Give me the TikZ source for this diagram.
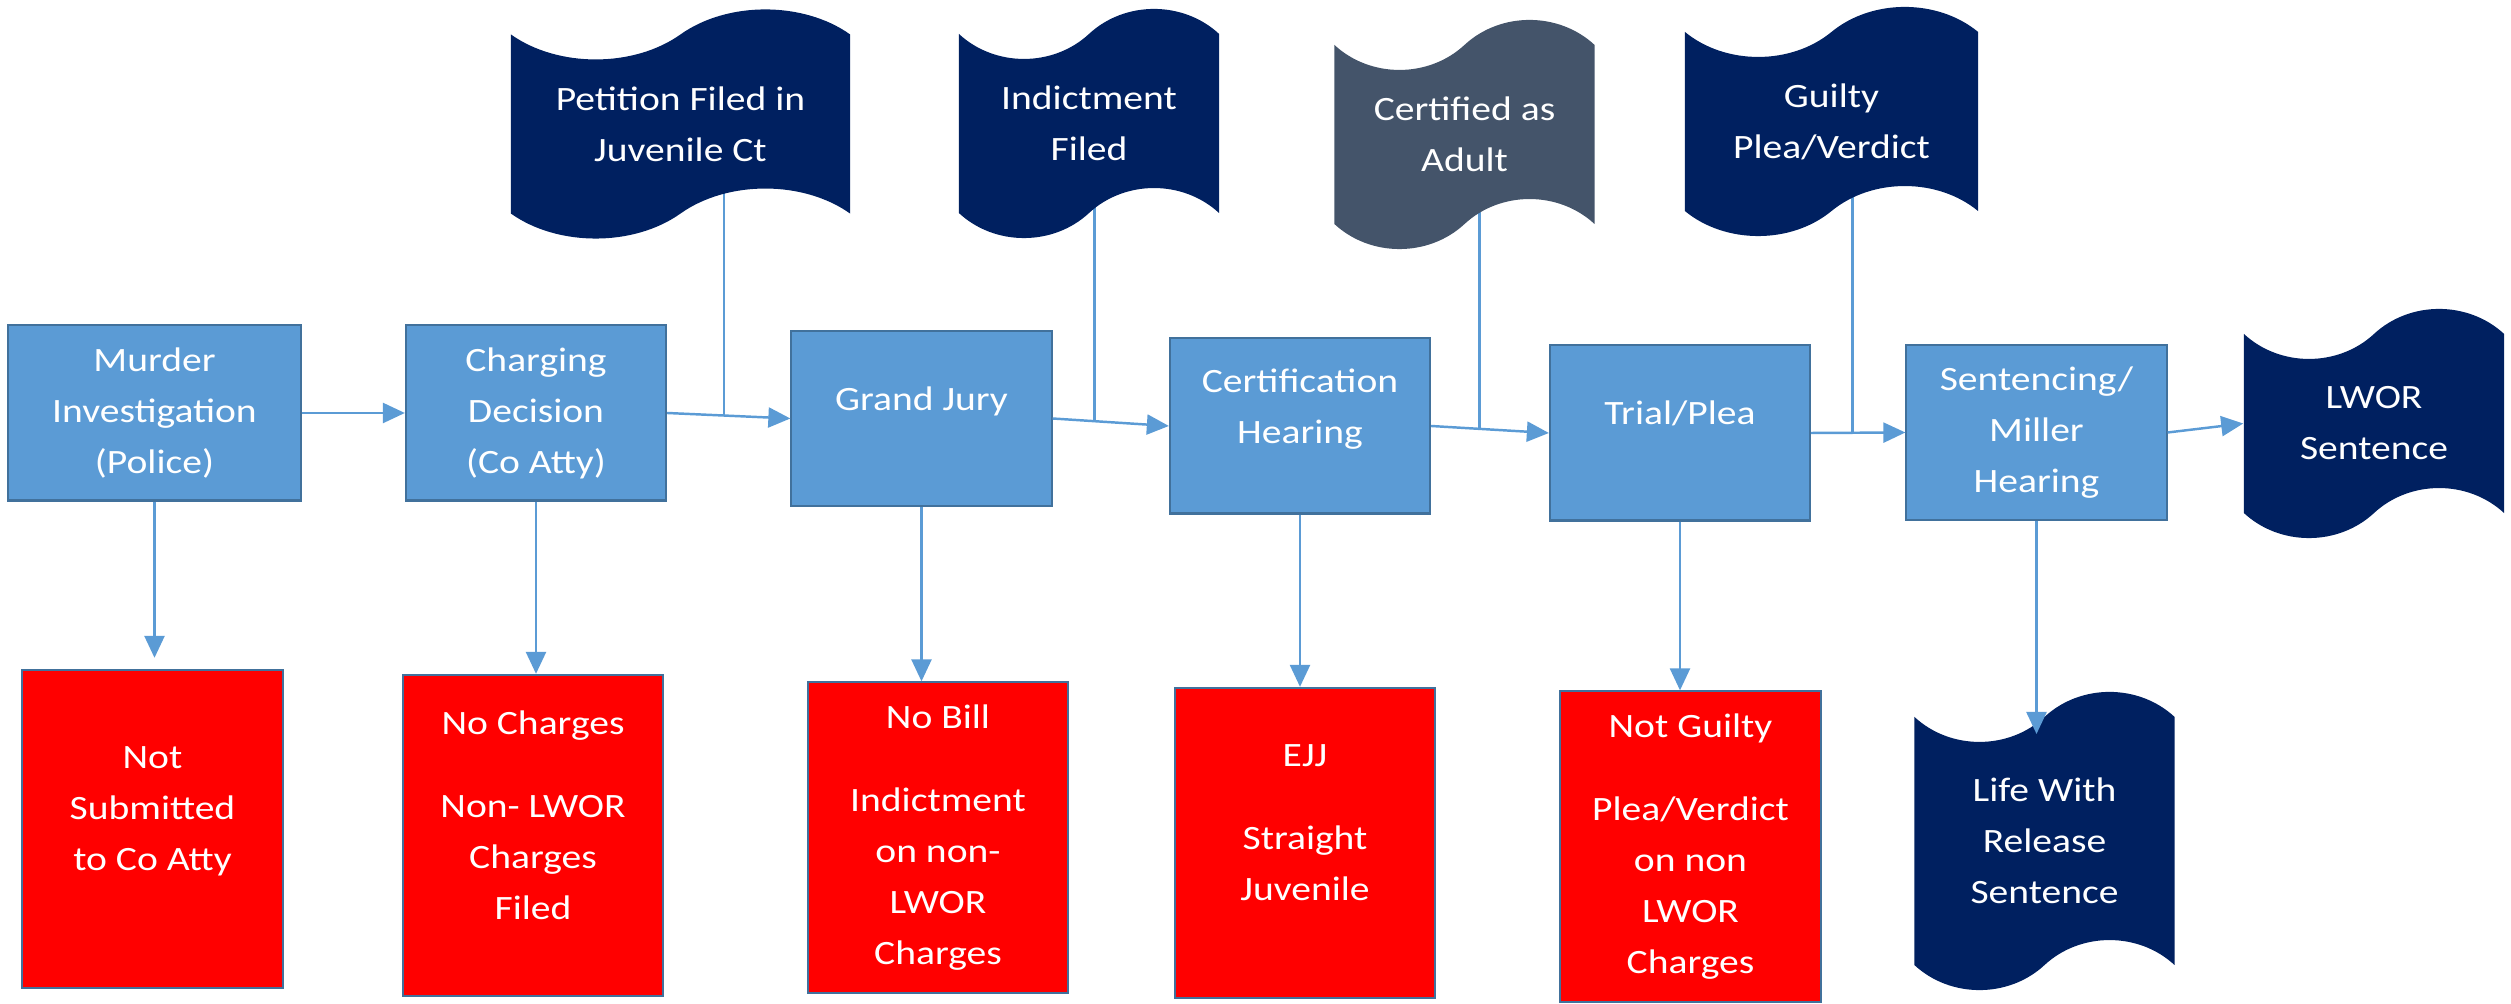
\documentclass[tikz,border=0pt]{standalone}
\usepackage{fontspec}
\setmainfont{Carlito}[FakeStretch=1.16]
\usepackage{xcolor}
\usetikzlibrary{shapes.symbols, positioning, arrows.meta, calc, backgrounds}

\definecolor{stageblue}{HTML}{5B9BD5}
\definecolor{stageline}{HTML}{41719C}
\definecolor{navy}{HTML}{002060}
\definecolor{slate}{HTML}{44546A}
\definecolor{flowblue}{HTML}{5B9BD5}

\begin{document}
\begin{tikzpicture}[x=0.01cm, y=-0.01cm, >={Triangle[length=0.22cm, width=0.2cm]},
        every node/.style={font=\fontsize{9.7}{14.5}\selectfont, text=white, align=center},
        stage/.style={rectangle, draw=stageline, fill=stageblue, line width=0.6pt, minimum width=2.6cm, minimum height=1.75cm, inner sep=2pt},
        outcome/.style={rectangle, draw=stageline, fill=red, line width=0.6pt, minimum width=2.6cm, minimum height=3.1cm, inner sep=2pt},
        scroll/.style={tape, fill=navy, draw=none, minimum width=2.6cm, minimum height=2.29cm, tape bend height=0.5cm, inner sep=2pt},
        raised/.style={text depth=0.4cm},
        flow/.style={->, draw=flowblue, line width=0.7pt},
        feed/.style={draw=flowblue, line width=0.7pt}]
        % Fix the page size
        \useasboundingbox (0,0) rectangle (2511,1004);

        % Main row of stages
        \node[stage, minimum width=2.93cm] (murder) at (154.5,413) {Murder\\Investigation\\(Police)};
        \node[stage] (charge) at (536,413) {Charging\\Decision\\(Co Atty)};
        \node[stage, raised] (gjury) at (921.5,418.5) {Grand Jury};
        \node[stage, raised] (certhear) at (1300,426) {Certification\\Hearing};
        \node[stage, raised] (trial) at (1680,433) {Trial/Plea};
        \node[stage] (sentence) at (2036.5,432.5) {Sentencing/\\Miller\\Hearing};

        % Exits (red boxes)
        \node[outcome, raised, minimum height=3.18cm] (nosubmit) at (152.5,829) {Not\\Submitted\\to Co Atty};
        \node[outcome, raised, minimum height=3.21cm] (nocharge) at (533,835.5) {No Charges\\[0.32cm]Non- LWOR\\Charges\\Filed};
        \node[outcome] (nobill) at (938,837.5) {No Bill\\[0.32cm]Indictment\\on non-\\LWOR\\Charges};
        \node[outcome, raised] (ejj) at (1305,843) {EJJ\\[0.32cm]Straight\\Juvenile};
        \node[outcome] (notguilty) at (1690.5,846.5) {Not Guilty\\[0.32cm]Plea/Verdict\\on non\\LWOR\\Charges};

        % Documents
        \node[scroll, minimum width=3.39cm] (petition) at (680.5,124) {Petition Filed in\\Juvenile Ct};
        \node[scroll] (indict) at (1089,123.5) {Indictment\\Filed};
        \node[scroll, fill=slate] (adult) at (1464.5,134.5) {Certified as\\Adult};
        \node[scroll, minimum width=2.93cm] (guilty) at (1831.5,121.5) {Guilty\\Plea/Verdict};
        \node[scroll] (lwor) at (2374,423.5) {LWOR\\Sentence};
        \node[scroll, minimum height=2.98cm] (release) at (2044.5,841) {Life With\\Release\\Sentence};

        % Flow along the main row
        \draw[flow] (murder.east) -- (charge.west);
        \draw[flow] (charge.east) -- (gjury.west);
        \draw[flow] (gjury.east) -- (certhear.west);
        \draw[flow] (certhear.east) -- (trial.west);
        \draw[flow] (trial.east) -- (sentence.west);
        \draw[flow] (sentence.east) -- (lwor.west);

        % Where the documents join the row
        \coordinate (j1) at ($(charge.east)!0.46!(gjury.west)$);
        \coordinate (j2) at ($(gjury.east)!0.36!(certhear.west)$);
        \coordinate (j3) at ($(certhear.east)!0.41!(trial.west)$);
        \coordinate (j4) at ($(trial.east)!0.44!(sentence.west)$);
        \begin{scope}[on background layer]
            \draw[feed] (j1 |- petition.center) -- (j1);
            \draw[feed] (j2 |- indict.center) -- (j2);
            \draw[feed] (j3 |- adult.center) -- (j3);
            \draw[feed] (j4 |- guilty.center) -- (j4);
        \end{scope}

        % Drops to the exits
        \coordinate (lifedip) at (2036.5,734);
        \draw[flow, shorten >=0.11cm] (murder.south) -- (murder.south |- nosubmit.north);
        \draw[flow] (charge.south) -- (charge.south |- nocharge.north);
        \draw[flow] (gjury.south) -- (gjury.south |- nobill.north);
        \draw[flow] (certhear.south) -- (certhear.south |- ejj.north);
        \draw[flow] (trial.south) -- (trial.south |- notguilty.north);
        \draw[flow] (sentence.south) -- (lifedip);
    \end{tikzpicture}
\end{document}
